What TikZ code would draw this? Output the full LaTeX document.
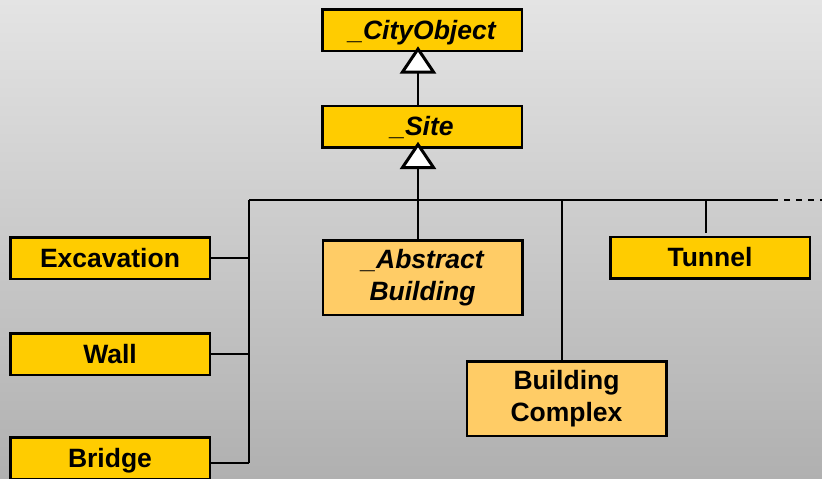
\documentclass[tikz,border=0pt]{standalone}
\usepackage{fontspec}
\setmainfont{Liberation Sans}
\usetikzlibrary{calc}
\definecolor{clsyellow}{HTML}{FFCC00}
\definecolor{clslight}{HTML}{FFCC66}
\definecolor{bgtop}{HTML}{E4E4E4}
\definecolor{bgbot}{HTML}{B0B0B0}
\tikzset{
  cls/.style={draw=black, line width=2.5pt, fill=clsyellow, minimum width=199.5pt,
    minimum height=41.5pt, inner sep=0pt, align=center,
    text height=18pt, text depth=0pt,
    font=\fontsize{26.5}{31.5}\selectfont\bfseries},
  abstractcls/.style={cls, font=\fontsize{26.5}{31.5}\selectfont\bfseries\itshape},
  twoline/.style={minimum height=74.5pt, fill=clslight, text height=, text depth=},
  conn/.style={draw=black, line width=2pt},
  gentri/.style={draw=black, fill=white, line width=3pt, line join=miter}
}
\begin{document}
\begin{tikzpicture}[x=1pt, y=-1pt]
  % background
  \shade[top color=bgtop, bottom color=bgbot] (0,0) rectangle (822,479);
  \useasboundingbox (0,0) rectangle (822,479);

  % classes
  \node[abstractcls] (city) at (422,30) {\_CityObject};
  \node[abstractcls] (site) at (422,126.5) {\_Site};
  \node[abstractcls, twoline] (abs) at (422.5,277.5) {\_Abstract\\Building};
  \node[cls, twoline] (bc) at (566.5,398.5) {Building\\Complex};
  \node[cls] (tunnel) at (710,257.5) {Tunnel};
  \node[cls] (exc) at (110,258) {Excavation};
  \node[cls] (wall) at (110,354) {Wall};
  \node[cls] (bridge) at (110,458) {Bridge};

  % junction points of the connector bus
  \coordinate (hub) at (418,200);
  \coordinate (jl) at (249,200);
  \coordinate (jend) at (772,200);
  \coordinate (busend) at (822,200);
  \coordinate (tbc) at (561.5,200);
  \coordinate (ttn) at (706,200);
  \coordinate (jb) at (249,463);

  % apexes of the generalisation triangles
  \coordinate (apex1) at ($(city.south)+(-4,-3)$);
  \coordinate (apex2) at ($(site.south)+(-4,-4)$);

  % generalisation lines with hollow triangles
  \draw[conn] ($(site.north)+(-4,0)$) -- ($(apex1)+(0,20)$);
  \draw[gentri] (apex1) -- ++(-15.5,23) -- ++(31,0) -- cycle;
  \draw[conn] (hub) -- ($(apex2)+(0,20)$);
  \draw[gentri] (apex2) -- ++(-15.5,23) -- ++(31,0) -- cycle;

  % bus lines
  \draw[conn] (jl) -- (jend);
  \draw[conn, dash pattern=on 6pt off 6pt] (jend) -- (busend);
  \draw[conn] (jl) -- (jb);

  % drops to subclasses
  \draw[conn] (hub) -- (hub |- abs.north);
  \draw[conn] (tbc) -- (tbc |- bc.north);
  \draw[conn] (ttn) -- ($(ttn |- tunnel.north)+(0,-3)$);
  \draw[conn] (exc.east) -- (exc.east -| jl);
  \draw[conn] (wall.east) -- (wall.east -| jl);
  \draw[conn] (jb -| bridge.east) -- (jb);
\end{tikzpicture}
\end{document}
